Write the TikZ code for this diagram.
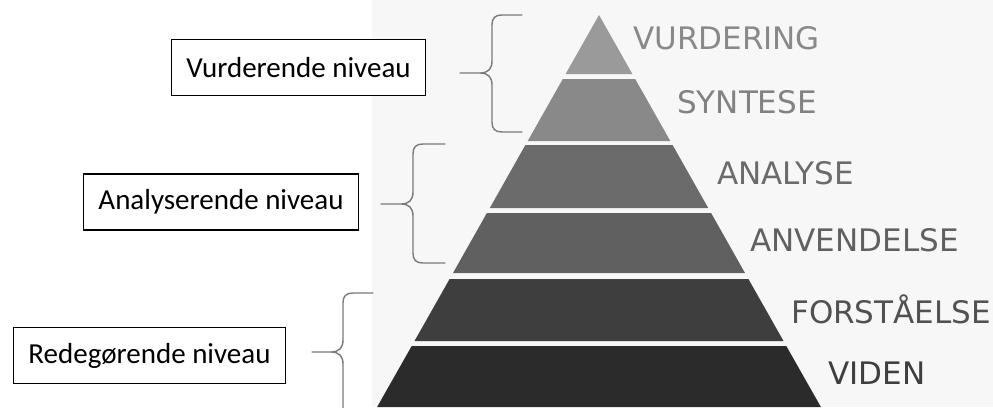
\documentclass[tikz,border=0pt]{standalone}
\usepackage{fontspec}
\setmainfont{Carlito}
\newfontfamily\labelfont{DejaVu Sans}

\definecolor{layerA}{HTML}{9A9A9A}
\definecolor{layerB}{HTML}{898989}
\definecolor{layerC}{HTML}{6B6B6B}
\definecolor{layerD}{HTML}{606060}
\definecolor{layerE}{HTML}{3E3E3E}
\definecolor{layerF}{HTML}{2B2B2B}
\definecolor{bracegray}{HTML}{7A7A7A}
\definecolor{paper}{HTML}{F7F7F7}

\begin{document}
\begin{tikzpicture}[x=1pt, y=-1pt,
    levelbox/.style={draw=black, line width=1.6pt, fill=white, inner xsep=15pt,
        minimum height=56pt, font=\fontsize{29}{32}\selectfont},
    steplabel/.style={anchor=west, inner sep=0pt, font=\labelfont\fontsize{31}{34}\selectfont},
    bracket/.style={draw=bracegray, line width=1.4pt, line cap=round}]

        \useasboundingbox (0,0) rectangle (993,407);

        % Light paper behind the pyramid
        \fill[paper] (372,0) rectangle (993,407);

        % Draw the six layers of the pyramid, top to bottom
        \fill[layerA] (599,15) -- (632.4,74) -- (565.6,74) -- cycle;
        \fill[layerB] (562.8,79) -- (635.2,79) -- (670.3,141) -- (527.7,141) -- cycle;
        \fill[layerC] (525.4,145) -- (672.6,145) -- (708.2,208) -- (489.8,208) -- cycle;
        \fill[layerD] (486.9,213) -- (711.1,213) -- (745.0,273) -- (453.0,273) -- cycle;
        \fill[layerE] (449.6,279) -- (748.4,279) -- (783.5,341) -- (414.5,341) -- cycle;
        \fill[layerF] (411.7,346) -- (786.3,346) -- (820.9,407) -- (377.1,407) -- cycle;

        % Names of the layers
        \node[steplabel, text=layerB] (vurdering) at (633,38) {VURDERING};
        \node[steplabel, text=layerB!95!black] (syntese) at (677,102) {SYNTESE};
        \node[steplabel, text=layerC] (analyse) at (717,173) {ANALYSE};
        \node[steplabel, text=layerD] (anvendelse) at (750,240) {ANVENDELSE};
        \node[steplabel, text=layerE!90!white] (forstaaelse) at (791,309) {FORSTÅELSE};
        \node[steplabel, text=layerE] (viden) at (828,373) {VIDEN};

        % Boxes for the three levels
        \node[levelbox] (vurderende) at (298.5,67.5) {Vurderende niveau};
        \node[levelbox] (analyserende) at (221,202) {Analyserende niveau};
        \node[levelbox] (redegoerende) at (149.5,355.5) {Redegørende niveau};

        % Tips of the braces, next to each box
        \coordinate (vurdtip) at (460,73);
        \coordinate (analtip) at (381,204);
        \coordinate (redetip) at (312,352);

        % Braces grouping the layers
        \draw[bracket] (522,15) -- (502,15) .. controls (495,15) and (492,18) .. (492,25)
            -- (492,61) .. controls (492,69) and (488,73) .. (480,73) -- (vurdtip)
            (vurdtip) -- (480,73) .. controls (488,73) and (492,77) .. (492,85)
            -- (492,122) .. controls (492,129) and (495,132) .. (502,132) -- (522,132);
        \draw[bracket] (445,144) -- (423,144) .. controls (416,144) and (413,147) .. (413,154)
            -- (413,192) .. controls (413,200) and (409,204) .. (401,204) -- (analtip)
            (analtip) -- (401,204) .. controls (409,204) and (413,208) .. (413,216)
            -- (413,253) .. controls (413,260) and (416,263) .. (423,263) -- (445,263);
        \draw[bracket] (373,293) -- (353,293) .. controls (346,293) and (343,296) .. (343,303)
            -- (343,340) .. controls (343,348) and (339,352) .. (331,352) -- (redetip)
            (redetip) -- (331,352) .. controls (339,352) and (343,356) .. (343,364)
            -- (343,412);

    \end{tikzpicture}
\end{document}
